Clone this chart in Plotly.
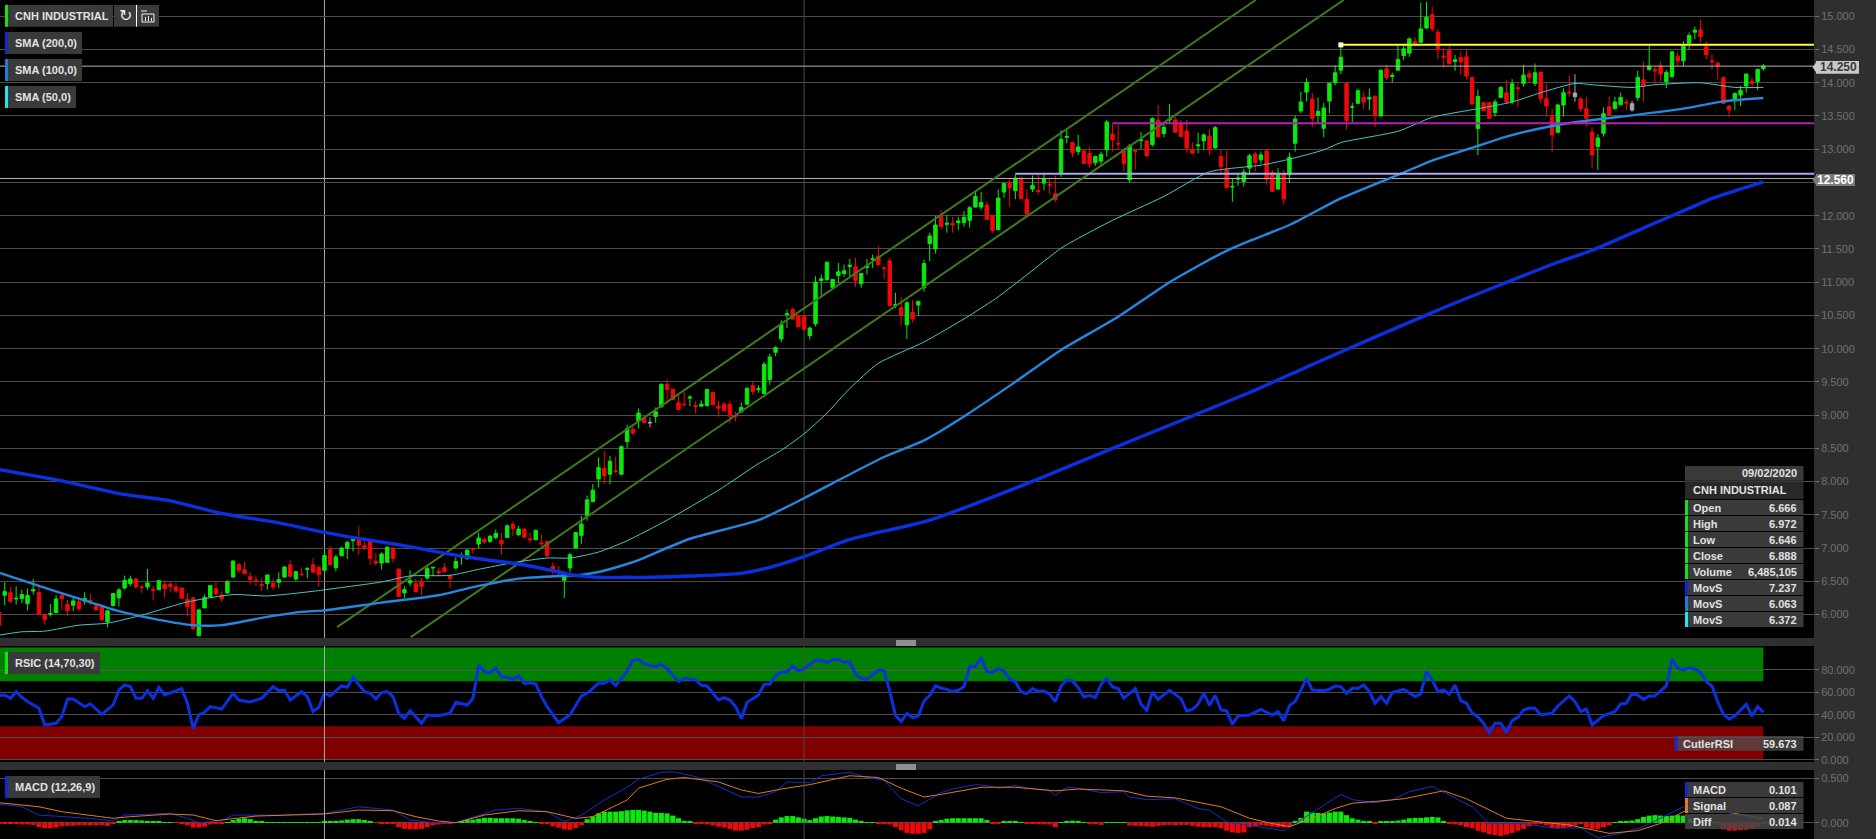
import plotly.graph_objects as go

# ---- price bars ----
opens = [
6.03,6.29,6.33,6.235,6.24,6.165,6.355,6.33,5.99,6.005,
6.03,6.285,6.15,6.14,6.2,6.2,6.215,6.13,6.12,5.89,
6.135,6.25,6.4,6.465,6.535,6.415,6.415,6.375,6.375,6.455,
6.455,6.415,6.4,6.225,6.25,5.68,6.1,6.265,6.39,6.295,
6.325,6.565,6.75,6.675,6.57,6.52,6.45,6.465,6.475,6.485,
6.565,6.75,6.535,6.61,6.68,6.75,6.71,6.666,6.975,6.705,
6.885,7.0,7.11,7.13,7.035,7.095,6.8,6.775,6.785,7.0,
6.685,6.325,6.475,6.465,6.495,6.55,6.7,6.65,6.705,6.585,
6.7,6.865,6.84,6.99,7.06,7.13,7.1,7.16,7.115,7.16,
7.355,7.2,7.285,7.14,7.125,7.075,7.1,6.725,6.665,6.515,
6.7,7.0,7.19,7.485,7.7,8.04,8.2,8.11,8.165,8.11,
8.6,8.785,8.91,8.95,8.88,8.98,9.125,9.465,9.39,9.185,
9.165,9.255,9.145,9.135,9.14,9.345,9.135,9.165,9.165,8.995,
9.05,9.165,9.44,9.385,9.325,9.535,9.945,10.145,10.51,10.59,
10.5,10.49,10.195,10.375,11.025,11.04,10.92,11.1,11.13,11.235,
11.23,10.975,11.22,11.34,11.39,11.215,11.32,10.65,10.615,10.36,
10.55,10.655,10.915,11.58,11.5,11.985,11.87,11.885,11.895,11.895,
11.93,12.13,12.13,12.16,12.005,11.79,12.355,12.505,12.375,12.565,
12.245,12.4,12.38,12.49,12.47,12.33,12.63,13.18,13.1,12.965,
12.975,12.935,12.795,12.82,12.99,13.23,13.09,12.99,12.54,12.98,
13.13,13.125,13.07,13.44,13.235,13.44,13.44,13.38,13.275,12.995,
13.05,13.125,13.2,13.02,12.89,12.7,12.43,12.55,12.515,12.715,
12.93,12.84,12.975,12.65,12.4,12.62,12.615,13.09,13.575,13.86,
13.755,13.51,13.315,13.725,14.0,14.19,13.99,13.63,13.69,13.78,
13.755,13.8,13.5,14.21,14.095,14.19,14.41,14.445,14.625,14.61,
14.825,15.025,14.76,14.4,14.49,14.32,14.38,14.39,14.08,13.31,
13.7,13.7,13.55,13.78,13.85,13.715,13.925,13.99,14.135,13.99,
14.16,13.76,13.49,13.255,13.665,13.86,13.845,13.755,13.61,13.26,
13.04,13.24,13.64,13.61,13.67,13.71,13.685,13.78,14.045,14.2,
14.195,14.26,14.015,14.09,14.4,14.33,14.595,14.76,14.795,14.54,
14.33,14.295,14.08,13.65,13.73,13.815,13.95,14.025,14.02,14.21]
highs = [
6.08,6.485,6.415,6.425,6.375,6.39,6.535,6.435,6.0,6.16,
6.29,6.305,6.22,6.28,6.26,6.335,6.31,6.145,6.15,6.07,
6.325,6.4,6.585,6.585,6.55,6.45,6.685,6.435,6.52,6.515,
6.505,6.475,6.4,6.325,6.265,6.08,6.3,6.435,6.49,6.35,
6.515,6.815,6.785,6.79,6.635,6.59,6.545,6.595,6.535,6.635,
6.725,6.815,6.655,6.71,6.715,6.85,6.735,6.972,7.03,6.9,
7.02,7.115,7.14,7.33,7.105,7.13,6.93,6.935,7.03,7.01,
6.69,6.425,6.665,6.535,6.55,6.725,6.715,6.7,6.775,6.6,
6.86,6.93,6.98,7.0,7.23,7.155,7.19,7.28,7.23,7.355,
7.4,7.335,7.295,7.235,7.28,7.2,7.11,6.785,6.725,6.65,
6.93,7.24,7.485,7.79,7.965,8.365,8.46,8.39,8.375,8.545,
8.855,8.835,9.1,8.975,8.965,9.115,9.475,9.535,9.395,9.3,
9.35,9.3,9.21,9.225,9.395,9.35,9.215,9.2,9.215,9.05,
9.185,9.415,9.505,9.45,9.8,9.925,10.035,10.435,10.59,10.615,
10.515,10.5,10.335,11.09,11.115,11.31,11.05,11.29,11.265,11.35,
11.365,11.14,11.35,11.415,11.545,11.25,11.365,10.84,10.775,10.715,
10.73,10.715,11.34,11.745,12.0,12.085,12.015,11.98,11.985,12.07,
12.145,12.37,12.36,12.22,12.01,12.395,12.495,12.57,12.625,12.585,
12.395,12.605,12.635,12.645,12.57,12.605,13.29,13.3,13.115,13.215,
12.99,13.04,12.905,12.965,13.44,13.38,13.37,13.015,13.08,13.0,
13.26,13.14,13.48,13.665,13.38,13.68,13.49,13.44,13.44,13.1,
13.25,13.24,13.3,13.35,12.99,12.98,12.565,12.64,12.705,12.93,
12.965,12.965,13.005,12.69,12.715,12.69,12.95,13.505,13.865,14.07,
13.85,13.78,13.7,14.0,14.26,14.59,14.0,13.7,13.915,13.87,
13.915,13.8,14.2,14.27,14.15,14.56,14.56,14.685,14.685,15.205,
15.22,15.145,14.805,14.52,14.555,14.42,14.47,14.49,14.085,13.9,
13.715,13.71,13.75,13.95,14.04,14.055,13.99,14.27,14.18,14.29,
14.165,13.99,13.615,13.68,13.915,14.11,14.13,13.79,13.79,13.33,
13.23,13.63,13.79,13.79,13.85,13.75,13.73,14.18,14.32,14.555,
14.25,14.32,14.19,14.475,14.47,14.625,14.76,14.845,14.945,14.625,
14.42,14.32,14.09,13.665,13.85,13.955,14.14,14.08,14.21,14.28]
lows = [
5.8,6.14,6.17,6.15,6.17,6.06,6.3,6.0,5.85,5.97,
6.02,6.07,5.98,6.05,6.05,6.15,6.14,6.06,5.91,5.81,
6.12,6.12,6.375,6.425,6.39,6.325,6.375,6.215,6.365,6.25,
6.335,6.325,6.235,5.97,5.76,5.68,6.095,6.265,6.285,6.185,
6.315,6.555,6.625,6.6,6.45,6.425,6.355,6.375,6.375,6.4,
6.55,6.565,6.505,6.585,6.55,6.625,6.415,6.646,6.74,6.65,
6.875,6.835,6.95,6.9,6.97,6.75,6.735,6.675,6.775,6.785,
6.27,6.25,6.425,6.335,6.285,6.525,6.575,6.575,6.625,6.4,
6.685,6.75,6.825,6.91,6.99,7.065,7.08,7.13,6.9,7.155,
7.175,7.185,7.14,7.075,7.12,7.035,6.85,6.6,6.585,6.25,
6.635,6.99,7.065,7.41,7.685,7.915,7.965,7.96,8.125,8.095,
8.5,8.7,8.8,8.875,8.815,8.885,9.115,9.16,9.225,9.085,
9.15,9.135,9.025,9.135,9.135,9.145,8.975,9.05,8.875,8.905,
9.035,9.155,9.3,9.335,9.315,9.45,9.885,10.095,10.31,10.435,
10.32,10.275,10.135,10.335,10.79,11.015,10.9,10.99,11.08,11.09,
10.93,10.915,11.115,11.215,11.24,11.04,10.63,10.61,10.355,10.145,
10.395,10.49,10.86,11.315,11.43,11.795,11.745,11.745,11.785,11.835,
11.82,12.12,12.085,11.935,11.745,11.78,12.27,12.13,12.25,12.25,
12.005,12.355,12.32,12.38,12.32,12.205,12.585,13.09,12.88,12.915,
12.775,12.725,12.75,12.765,12.89,12.965,12.99,12.665,12.5,12.69,
13.0,12.89,13.04,13.18,13.18,13.4,13.24,13.18,12.95,12.93,
12.94,12.99,12.91,13.01,12.615,12.41,12.21,12.45,12.44,12.615,
12.665,12.78,12.465,12.355,12.39,12.165,12.49,12.965,13.54,13.715,
13.33,13.39,13.18,13.54,13.96,14.13,13.3,13.41,13.68,13.6,
13.59,13.33,13.49,14.04,14.0,14.18,14.34,14.39,14.545,14.595,
14.805,14.77,14.35,14.23,14.285,14.18,14.12,14.05,13.675,12.91,
13.57,13.455,13.49,13.765,13.69,13.68,13.63,13.94,13.99,13.95,
13.69,13.49,12.96,13.24,13.49,13.79,13.715,13.565,13.34,12.71,
12.69,13.19,13.5,13.6,13.66,13.59,13.565,13.725,13.715,14.18,
13.98,14.02,13.92,14.08,14.25,14.25,14.5,14.655,14.605,14.355,
14.2,14.05,13.68,13.48,13.59,13.65,13.85,13.915,13.89,14.18]
closes = [
5.84,6.345,6.2,6.245,6.3,6.285,6.375,6.0,5.92,6.015,
6.235,6.235,6.06,6.205,6.085,6.24,6.205,6.07,5.92,6.055,
6.315,6.37,6.515,6.535,6.415,6.405,6.475,6.365,6.51,6.39,
6.42,6.355,6.245,6.12,5.79,6.07,6.255,6.435,6.31,6.235,
6.495,6.805,6.665,6.615,6.525,6.51,6.44,6.595,6.415,6.525,
6.715,6.575,6.645,6.6,6.69,6.635,6.6,6.888,6.75,6.865,
7.0,7.085,7.125,7.045,7.01,6.845,6.775,6.91,7.01,6.84,
6.275,6.375,6.51,6.345,6.425,6.69,6.71,6.625,6.645,6.54,
6.8,6.875,6.97,6.98,7.15,7.09,7.18,7.22,7.065,7.335,
7.29,7.285,7.165,7.125,7.265,7.065,6.885,6.665,6.655,6.615,
6.9,7.235,7.36,7.725,7.87,8.21,8.085,8.305,8.155,8.525,
8.795,8.73,9.03,8.89,8.89,9.05,9.465,9.385,9.235,9.085,
9.155,9.27,9.13,9.165,9.385,9.155,9.105,9.065,8.985,8.985,
9.115,9.405,9.355,9.395,9.765,9.875,10.015,10.36,10.525,10.445,
10.33,10.285,10.31,11.0,11.05,11.3,11.04,11.155,11.17,11.255,
11.025,11.13,11.24,11.35,11.265,11.205,10.65,10.665,10.5,10.69,
10.445,10.71,11.28,11.695,11.86,11.835,11.885,11.865,11.92,11.975,
12.12,12.29,12.2,11.945,11.78,12.265,12.485,12.415,12.565,12.255,
12.025,12.455,12.365,12.555,12.455,12.245,13.15,13.19,12.95,13.035,
12.785,12.78,12.89,12.925,13.41,13.14,13.08,12.78,13.05,12.965,
13.14,12.9,13.46,13.185,13.33,13.45,13.255,13.19,13.015,12.94,
13.065,13.215,12.99,13.325,12.735,12.42,12.44,12.565,12.655,12.9,
12.8,12.915,12.55,12.365,12.625,12.25,12.88,13.455,13.71,14.005,
13.465,13.57,13.62,13.99,14.15,14.385,13.43,13.64,13.88,13.71,
13.78,13.51,14.19,14.075,14.11,14.35,14.51,14.66,14.57,14.81,
14.985,14.81,14.495,14.385,14.285,14.345,14.315,14.1,13.68,13.795,
13.58,13.465,13.71,13.93,13.71,13.985,13.91,14.115,14.08,14.15,
13.76,13.65,13.215,13.665,13.85,13.85,13.79,13.605,13.465,12.915,
13.17,13.535,13.52,13.71,13.78,13.695,13.59,14.08,13.95,14.25,
14.18,14.13,14.155,14.465,14.33,14.55,14.71,14.79,14.695,14.42,
14.315,14.255,13.69,13.59,13.84,13.885,14.13,13.985,14.2,14.25]
gray_bars = [114, 276, 286]

# ---- moving averages ----
sma200_x = [0,11,21,30,39,49,57,63,70,77,84,91,98,100,105,110,114,121,130,135,141,149,163,180,195,219,231,252,273,279,290,296,300,309]
sma200_y = [8.18,8.01,7.82,7.71,7.52,7.38,7.237,7.145,7.05,6.94,6.84,6.76,6.64,6.6,6.56,6.56,6.56,6.58,6.62,6.71,6.87,7.13,7.42,7.97,8.5,9.34,9.8,10.58,11.3,11.48,11.89,12.11,12.26,12.51]
sma100_x = [0,7,14,21,28,34,39,46,53,57,67,77,84,91,98,101,105,110,112,121,133,141,147,155,162,169,178,186,196,205,214,219,226,235,246,251,259,264,272,279,286,295,302,309]
sma100_y = [6.63,6.43,6.24,6.05,5.92,5.84,5.84,5.95,6.04,6.063,6.18,6.29,6.43,6.54,6.58,6.59,6.64,6.76,6.82,7.14,7.42,7.75,8.02,8.37,8.62,8.98,9.5,9.98,10.48,11.0,11.43,11.62,11.86,12.26,12.65,12.83,13.05,13.19,13.35,13.44,13.51,13.61,13.72,13.77]
sma50_x = [0,4,8,14,19,25,33,41,47,56,57,67,72,79,84,90,96,100,105,110,117,126,133,137,141,145,149,154,162,170,175,180,186,189,195,204,212,221,226,232,235,245,251,259,265,270,276,279,286,290,298,304,309]
sma50_y = [5.69,5.74,5.75,5.84,5.87,5.99,6.19,6.3,6.28,6.36,6.372,6.49,6.58,6.59,6.68,6.78,6.85,6.85,6.94,7.11,7.42,7.87,8.27,8.47,8.72,9.03,9.4,9.78,10.1,10.5,10.78,11.11,11.51,11.66,11.93,12.29,12.66,12.76,12.85,12.99,13.1,13.27,13.48,13.61,13.71,13.85,13.99,13.97,13.93,13.97,14.0,13.93,13.93]

# ---- drawn lines ----
chan_up_x = [59.2, 220.1]
chan_up_y = [5.81, 15.245]
chan_lo_x = [72.1, 235.5]
chan_lo_y = [5.66, 15.245]
level_yellow = 14.57
level_magenta = 13.39
level_lavender = 12.63
last_price = 14.25
crosshair_price = 12.56

# ---- RSI ----
rsi_x = [0,1,2,3,4,5,7,8,10,11,12,13,15,16,18,20,21,22,23,24,25,26,27,28,29,32,33,34,35,36,37,39,41,42,44,46,48,49,50,51,53,54,55,56,57,58,60,61,62,64,65,66,67,68,69,70,71,72,74,75,77,79,80,82,83,84,85,86,87,88,89,90,91,92,93,94,95,96,98,100,102,103,105,106,107,108,
 110,111,112,113,115,116,117,119,120,122,123,124,126,127,128,129,130,131,133,134,135,136,137,138,139,140,141,143,144,145,146,147,148,149,150,151,152,153,154,155,156,157,158,159,160,161,162,163,164,165,166,167,168,169,170,171,172,173,174,175,176,177,178,179,180,181,182,183,184,185,186,187,188,189,190,191,192,193,194,195,196,197,199,200,201,202,203,205,207,208,209,210,211,212,213,214,215,216,217,219,
 221,223,224,225,226,227,229,230,232,233,234,235,236,237,238,239,240,241,242,243,244,246,248,249,250,251,252,253,254,255,256,257,258,259,260,261,262,263,264,265,266,267,268,269,270,272,273,275,276,277,278,279,281,283,284,285,286,287,288,289,290,292,293,294,295,296,297,298,299,300,301,302,303,304,306,307,308,309]
rsi_y = [57.2,57.8,54.8,60.7,55.7,51.9,45.9,31.1,32.6,38.5,54.2,54.2,47.4,49.8,40.6,48.9,62.2,66.7,65.2,54.8,54.8,61.6,54.8,64.6,57.8,63.4,50.4,28.1,40,42.4,47.4,45.3,59.3,53.3,51.6,54.8,65.2,61.6,62.2,53.3,60.7,56.3,43,46.8,59.67,56.9,65.8,64.6,73.5,60.7,59.3,54.2,59.9,60.7,56.3,41.5,37,43.9,32.6,40,39.4,41.5,51.3,48.9,54.8,84.4,78.5,77.6,81.5,74.1,73.5,71.7,74.7,68.1,68.7,67.6,56.3,47.4,33.2,40,56.9,59.3,68.1,68.1,71.1,66.1,
 79,88.6,89.5,85.6,83,85,81.2,69.6,72.6,71.1,66.4,65.8,53.3,55.4,53.3,47.4,36.7,51,57.8,67.3,67.3,74.7,78.2,78.2,83.6,79.1,81.2,88.6,88.6,86.5,89.2,89.2,87.1,87.1,76.1,72.6,71.7,76.1,80,79.4,61.3,39.7,34.1,41.5,37.6,39.1,52.4,57.5,65.8,64,62.8,60.7,61.9,65.2,83,83,91,78.5,77.9,81.2,79,71.7,69.3,60.7,59,63.4,61,61.3,58.4,51.9,65.8,71.1,70.2,64.3,56,57.5,55.4,67.3,72.6,64.9,63.4,54.8,63.4,49.5,44.1,60.4,53.9,61.9,54.5,43.6,45,49.5,59.3,48.6,57.5,44.4,43.6,31.7,39.1,40,
 45,40,43,35,48.3,51.9,72.6,62.2,61.6,62.8,65.8,65.2,59.3,63.7,63.7,66.7,60.7,50.4,56.3,50.4,59.9,62.8,56.3,58.7,78.5,71.1,60.7,62.2,58.4,66.7,52.7,50.4,41.5,38.5,32.6,24.3,32.6,32.6,24.3,35,37.9,44.4,46.2,45.9,40,41.5,48,56.9,51.9,43,45.3,31.1,39.4,43,49.8,50.4,59.3,57.8,53.9,56.9,56.9,65.8,89.8,81.5,80,82,80.9,77.6,69.6,65.8,51.9,40.6,36.4,39.1,49.5,39.1,47.4,42.4]

# ---- MACD ----
macd_x = [0,4,7,12,16,20,22,30,33,35,39,41,49,57,63,69,72,76,80,87,91,96,99,102,106,110,112,116,118,122,126,130,133,136,138,142,144,149,152,155,158,161,165,167,171,173,175,178,180,184,185,187,189,193,197,198,201,206,210,212,215,219,225,228,232,235,237,241,244,247,251,254,258,261,267,272,277,280,284,288,292,295,300,304,309]
macd_y = [.21,.18,.086,.068,.049,.019,.086,.105,.049,0,.023,.086,.086,.105,.18,.143,.03,0,0,.143,.162,.124,.011,.086,.256,.4,.49,.57,.575,.52,.41,.29,.29,.35,.46,.45,.53,.57,.51,.48,.27,.19,.34,.38,.43,.42,.39,.42,.39,.36,.31,.4,.39,.34,.35,.29,.26,.27,.16,.14,.01,-.03,-.09,.03,.2,.32,.26,.226,.256,.35,.41,.31,.18,-.01,-.01,-.06,-.06,-.17,-.12,-.045,.086,.18,.17,.09,.03]
signal_x = [0,7,11,20,23,30,34,38,45,57,63,69,73,77,80,85,91,96,101,104,110,112,117,120,126,130,133,137,142,149,154,158,162,165,172,178,185,189,197,201,206,214,219,223,226,230,234,237,241,246,253,257,264,268,275,282,287,291,295,300,304,309]
signal_y = [.226,.18,.124,.05,.068,.098,.087,.023,.075,.098,.143,.135,.068,.019,0,.086,.135,.124,.049,.068,.256,.39,.49,.51,.46,.37,.33,.38,.43,.53,.51,.39,.29,.32,.4,.4,.36,.38,.36,.3,.28,.18,.05,-.01,-.045,.05,.16,.22,.24,.27,.36,.27,.05,.02,-.026,-.12,-.09,-.008,.124,.16,.105,.05]
diff_y = [
-.005,-.01,-.012,-.015,-.02,-.02,-.025,-.05,-.06,-.06,
-.055,-.04,-.035,-.035,-.03,-.03,-.03,-.03,-.03,-.035,
-.01,.02,.03,.03,.03,.025,.02,.015,.01,.005,
.003,-.003,-.015,-.03,-.055,-.055,-.045,-.02,-.015,-.01,
.002,.03,.045,.05,.04,.02,.015,.005,.002,.004,
.003,.005,.005,.004,.004,.002,.002,.014,.016,.02,
.025,.035,.04,.04,.03,.012,-.003,-.006,-.005,-.01,
-.05,-.07,-.075,-.075,-.07,-.05,-.03,-.02,-.015,-.01,
.005,.015,.03,.035,.045,.055,.055,.05,.05,.05,
.05,.045,.03,.015,.006,-.005,-.01,-.04,-.055,-.075,
-.08,-.06,-.03,.04,.07,.105,.125,.125,.125,.13,
.14,.145,.145,.135,.125,.11,.11,.105,.08,.05,
.02,.01,-.005,-.015,-.02,-.03,-.045,-.055,-.07,-.09,
-.09,-.08,-.06,-.05,-.02,-.005,.035,.06,.075,.075,
.06,.045,.03,.05,.07,.075,.07,.065,.06,.055,
.035,.02,.005,.002,-.005,-.01,-.02,-.05,-.085,-.115,
-.125,-.125,-.115,-.075,.01,.03,.045,.05,.05,.05,
.05,.05,.05,.03,-.012,-.01,.015,.018,.02,.002,
-.012,-.015,-.018,-.018,-.02,-.05,.002,.02,.022,.02,
.002,-.01,-.015,-.025,.003,.003,.003,.003,-.03,-.035,
-.04,-.04,-.045,-.035,-.03,-.025,-.03,-.025,-.025,-.035,
-.045,-.05,-.05,-.05,-.06,-.09,-.11,-.115,-.11,-.05,
-.04,-.03,-.035,-.045,-.05,-.055,-.04,.02,.055,.125,
.115,.11,.105,.115,.125,.125,.085,.05,.035,.02,
.015,-.012,.008,.012,.015,.025,.035,.05,.055,.055,
.06,.065,.06,.02,-.005,-.02,-.03,-.05,-.06,-.09,
-.11,-.13,-.14,-.15,-.135,-.115,-.09,-.07,-.04,-.02,
-.01,-.03,-.06,-.065,-.06,-.05,-.03,-.01,-.05,-.07,
-.07,-.05,-.03,.002,.01,.02,.025,.04,.065,.08,
.085,.08,.075,.08,.085,.08,.05,.02,.01,.005,
.002,-.02,-.075,-.09,-.09,-.085,-.08,-.07,-.04,-.02]

# ---- text ----
legend_labels = ["CNH INDUSTRIAL", "SMA (200,0)", "SMA (100,0)", "SMA (50,0)"]
info_labels = ["Open", "High", "Low", "Close", "Volume", "MovS", "MovS", "MovS"]
info_values = ["6.666", "6.972", "6.646", "6.888", "6,485,105", "7.237", "6.063", "6.372"]
macd_labels = ["MACD", "Signal", "Diff"]
macd_values = ["0.101", "0.087", "0.014"]

W, H = 1876, 839
GREEN, RED, GRAY = "#0be80b", "#f00808", "#a8a8a8"
C200, C100, C50 = "#0a30e0", "#2488de", "#45c8cc"
FONT = "Liberation Sans"
PANEL_R = 1814
px = lambda v: v / W
py = lambda v: 1 - v / H
x_left, x_right = 1 / 5.71, (PANEL_R + 1) / 5.71
n = len(opens)
idx = list(range(n))
last = n - 1

fig = go.Figure()

def ohlc(sel, up, down):
    return go.Candlestick(
        x=sel, open=[opens[i] for i in sel], high=[highs[i] for i in sel],
        low=[lows[i] for i in sel], close=[closes[i] for i in sel],
        increasing=dict(line=dict(color=up, width=1), fillcolor=up),
        decreasing=dict(line=dict(color=down, width=1), fillcolor=down),
        whiskerwidth=0, hoverinfo="skip", showlegend=False, xaxis="x", yaxis="y")

def line(x, y, color, width, ax="y", smooth=False):
    style = dict(color=color, width=width)
    if smooth:
        style.update(shape="spline", smoothing=0.6)
    return go.Scatter(x=x, y=y, mode="lines", line=style,
                      hoverinfo="skip", showlegend=False, xaxis="x", yaxis=ax)

fig.add_trace(line([x_left, x_right], [last_price] * 2, "#b4b4b4", 1))
fig.add_trace(line([x_left, x_right], [crosshair_price] * 2, "#b4b4b4", 1))
fig.add_trace(ohlc([i for i in idx if i not in gray_bars], GREEN, RED))
fig.add_trace(ohlc(gray_bars, GRAY, GRAY))
fig.add_trace(line(chan_up_x, chan_up_y, "#3e7a1c", 2))
fig.add_trace(line(chan_lo_x, chan_lo_y, "#3e7a1c", 2))
fig.add_trace(line(sma50_x, sma50_y, C50, 1, smooth=True))
fig.add_trace(line(sma100_x, sma100_y, C100, 2.4, smooth=True))
fig.add_trace(line(sma200_x, sma200_y, C200, 3.4, smooth=True))
fig.add_trace(line([178, x_right], [level_lavender] * 2, "#a8a8ee", 2))
fig.add_trace(line([195, x_right], [level_magenta] * 2, "#b420b4", 2))
fig.add_trace(line([235, x_right], [level_yellow] * 2, "#ffff30", 2))
fig.add_trace(go.Scatter(x=[235], y=[level_yellow], mode="markers",
                         marker=dict(symbol="square", size=5, color="#ffffc8"),
                         hoverinfo="skip", showlegend=False, xaxis="x", yaxis="y"))

fig.add_trace(line(rsi_x, rsi_y, "#0a30e0", 3, "y2"))

fig.add_trace(go.Bar(x=idx, y=diff_y, marker=dict(color=[GREEN if v >= 0 else RED for v in diff_y], line=dict(width=0)),
                     hoverinfo="skip", showlegend=False, xaxis="x", yaxis="y3"))
fig.add_trace(line(macd_x, macd_y, "#1030d0", 1, "y3"))
fig.add_trace(line(signal_x, signal_y, "#e07a20", 1, "y3"))

shapes, notes = [], []

def rect(x0, y0, x1, y1, color, layer="above"):
    shapes.append(dict(type="rect", xref="paper", yref="paper", x0=px(x0), x1=px(x1), y0=py(y0), y1=py(y1),
                       fillcolor=color, line=dict(width=0), layer=layer))

def seg(x0, y0, x1, y1, color, width=1):
    shapes.append(dict(type="line", xref="paper", yref="paper", x0=px(x0), x1=px(x1), y0=py(y0), y1=py(y1),
                       line=dict(color=color, width=width), layer="above"))

def text(x, y, s, anchor="left", color="#e2e2e2", size=11, bold=True, font=FONT):
    notes.append(dict(xref="paper", yref="paper", x=px(x), y=py(y), text=f"<b>{s}</b>" if bold else s,
                      showarrow=False, xanchor=anchor, yanchor="middle", xshift=0,
                      font=dict(family=font, size=size, color=color), borderpad=0))

# RSI zones
shapes.append(dict(type="rect", xref="x", yref="y2", x0=x_left, x1=last, y0=70, y1=100,
                   fillcolor="#008000", line=dict(width=0), layer="below"))
shapes.append(dict(type="rect", xref="x", yref="y2", x0=x_left, x1=last, y0=0, y1=30,
                   fillcolor="#800000", line=dict(width=0), layer="below"))
for v in (80, 20):
    shapes.append(dict(type="line", xref="x", yref="y2", x0=x_left, x1=last, y0=v, y1=v,
                       line=dict(color="rgba(255,255,255,0.18)", width=1), layer="below"))

# vertical markers in each panel
for ax in ("y", "y2", "y3"):
    shapes.append(dict(type="line", xref="x", yref=f"{ax} domain", x0=57, x1=57, y0=0, y1=1,
                       line=dict(color="#a8a8a8", width=1), layer="below" if ax == "y" else "above"))
    shapes.append(dict(type="line", xref="x", yref=f"{ax} domain", x0=141, x1=141, y0=0, y1=1,
                       line=dict(color="#484848", width=1), layer="below" if ax == "y" else "above"))

# splitter grips
for top in (641, 765):
    for k in range(3):
        seg(896, top + k * 2, 916, top + k * 2, "#f0f0f0", 1)

# top-left legend
BOX = "#3a3a3a"
rect(5, 5, 113, 26.7, BOX)
rect(5, 5, 8, 26.7, "#18e018")
text(14, 16, legend_labels[0])
rect(114, 5, 136, 26.7, BOX)
rect(136, 5, 159, 26.7, BOX)
seg(136.5, 5, 136.5, 26.7, "#ffffff", 1)
text(125.5, 16, "\u21bb", anchor="center", color="#f0f0f0", size=16, bold=False, font="DejaVu Sans")
seg(142, 14, 154, 14, "#f0f0f0"); seg(142, 14, 142, 22, "#f0f0f0"); seg(154, 14, 154, 22, "#f0f0f0"); seg(142, 22, 154, 22, "#f0f0f0")
seg(145.5, 17, 145.5, 21, "#f0f0f0"); seg(148.5, 16, 148.5, 21, "#f0f0f0"); seg(151.5, 18, 151.5, 21, "#f0f0f0")
seg(141, 11, 147, 11, "#f0f0f0")
for lab, y0, x1, col in zip(legend_labels[1:], (32, 59, 86), (82, 82, 76), ("#0f2bd0", "#1a7fd6", "#1ae8f0")):
    rect(5, y0, x1, y0 + 22, BOX)
    rect(5, y0, 8, y0 + 22, col)
    text(14, y0 + 11, lab)
rect(5, 652, 100, 674, BOX); rect(5, 652, 8, 674, "#18e018"); text(14, 663, "RSIC (14,70,30)")
rect(5, 776, 100, 798, BOX); rect(5, 776, 8, 798, "#0f2bd0"); text(14, 787, "MACD (12,26,9)")

# data window
BX0, BX1, VALX = 1685, 1803.5, 1797.5
rect(BX0, 466, BX1, 480.7, BOX)
text(VALX, 473.5, "09/02/2020", anchor="right")
rect(BX0, 481.5, BX1, 499, "#282828")
text(1692, 490, "CNH INDUSTRIAL")
cols = ["#18e018"] * 5 + ["#0f2bd0", "#1a7fd6", "#1ae8f0"]
for k, (lab, val, col) in enumerate(zip(info_labels, info_values, cols)):
    y0 = 500 + 16 * k
    rect(BX0, y0, BX1, y0 + 15, BOX)
    rect(BX0, y0, BX0 + 3, y0 + 15, col)
    text(1692, y0 + 7.7, lab)
    text(VALX, y0 + 7.7, val, anchor="right")

# RSI readout
rect(1674.6, 736, BX1, 750.7, "rgba(80,80,80,0.72)")
rect(1674.6, 736, 1677.6, 750.7, "#0f2bd0")
text(1682, 743.5, "CutlerRSI")
text(VALX, 743.5, "59.673", anchor="right")

# MACD readout
for k, (lab, val, col, fill) in enumerate(zip(macd_labels, macd_values, ("#0f2bd0", "#e07a20", "#3a3a3a"),
                                              (BOX, BOX, "rgba(70,70,70,0.85)"))):
    y0 = 782 + 16 * k
    rect(BX0, y0, BX1, y0 + 15, fill)
    rect(BX0, y0, BX0 + 3, y0 + 15, col)
    text(1692, y0 + 7.7, lab)
    text(VALX, y0 + 7.7, val, anchor="right")

# price tags
rect(1816, 61, 1859, 73.7, "#c8c8c8")
shapes.append(dict(type="path", xref="paper", yref="paper", layer="above", fillcolor="#c8c8c8", line=dict(width=0),
                   path=f"M {px(1816)} {py(62.5)} L {px(1812.5)} {py(67.3)} L {px(1816)} {py(72)} Z"))
text(1838, 67.4, "14.250", anchor="center", color="#3a3a3a", size=12)
rect(1816, 174, 1855, 186, "#7a7a7a")
shapes.append(dict(type="path", xref="paper", yref="paper", layer="above", fillcolor="#7a7a7a", line=dict(width=0),
                   path=f"M {px(1816)} {py(175.5)} L {px(1812.5)} {py(180)} L {px(1816)} {py(184.5)} Z"))
text(1835.5, 180, "12.560", anchor="center", color="#ffffff", size=12)

GRID = "#4c4c4c"
TICK = dict(side="right", anchor="x", showline=False, zeroline=False, gridcolor=GRID, gridwidth=1,
            ticks="outside", ticklen=4, tickcolor="#707070", tickwidth=1,
            tickfont=dict(family=FONT, size=11, color="#707070"))
y_ticks = [6 + 0.5 * k for k in range(19) if 6 + 0.5 * k != 12.5]
fig.update_layout(
    width=W, height=H, margin=dict(l=0, r=0, t=0, b=0, autoexpand=False), autosize=False,
    paper_bgcolor="#2f2f2f", plot_bgcolor="#000000", showlegend=False, hovermode=False,
    bargap=0.12, boxgap=0.14, shapes=shapes, annotations=notes,
    xaxis=dict(domain=[0, PANEL_R / W], range=[x_left, x_right], anchor="y3", showgrid=False, zeroline=False,
               showticklabels=False, ticks="", showline=False, rangeslider=dict(visible=False)),
    yaxis=dict(domain=[py(638), 1], range=[5.647, 15.245], tickvals=[6 + 0.5 * k for k in range(19)], tickformat=".3f", **TICK),
    yaxis2=dict(domain=[py(762), py(646)], range=[-1.8, 101.3], tickvals=[0, 20, 40, 60, 80], tickformat=".3f", **TICK),
    yaxis3=dict(domain=[0, py(770)], range=[-0.184, 0.595], tickvals=[0, 0.5], tickformat=".3f", **TICK),
)

fig.write_html("out.html", config=dict(displayModeBar=False),
               post_script="document.body.style.margin='0';document.documentElement.style.overflow='hidden';")
